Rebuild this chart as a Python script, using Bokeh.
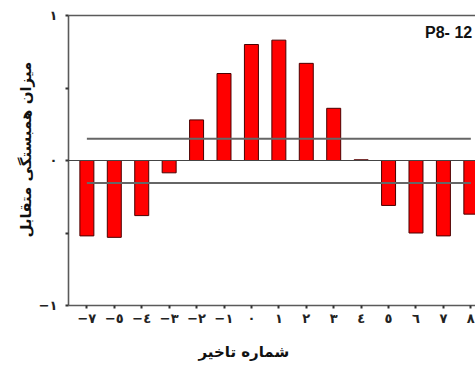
from bokeh.plotting import figure
from bokeh.models import Range1d, FixedTicker, LinearAxis, Label, Span, Title
from bokeh.embed import file_html
from bokeh.resources import INLINE

# Cross-correlation by lag number
lag_labels = ["−٧", "−٥", "−٤", "−٣", "−٢", "−١", "٠", "١", "٢", "٣", "٤", "٥", "٦", "٧", "٨"]
correlation = [-0.52, -0.53, -0.38, -0.085, 0.28, 0.60, 0.80, 0.83, 0.67, 0.36, 0.005,
               -0.31, -0.50, -0.52, -0.37]
conf_upper = 0.15
conf_lower = -0.155

y_ticks = [-1, -0.5, 0, 0.5, 1]
y_tick_text = {-1: "−١", -0.5: "", 0: "٠", 0.5: "", 1: "١"}

x_title = "شماره تاخیر"
y_title = "میزان همبستگی متقابل"
panel_tag = "P8- 12"

positions = list(range(len(lag_labels)))

AR_FONT = "DejaVu Sans"
AXIS_GREY = "#5a5a5a"

p = figure(width=475, height=376,
           x_range=Range1d(-0.67, 14.17), y_range=Range1d(-1, 1),
           output_backend="svg", toolbar_location=None,
           min_border_left=68, min_border_right=0,
           min_border_top=15, min_border_bottom=71)
p.outline_line_color = None
p.xgrid.visible = False
p.ygrid.visible = False
p.background_fill_color = "white"

# bars
p.vbar(x=positions, top=correlation, bottom=0, width=0.51,
       fill_color="#ff0000", line_color="#4a0000", line_width=1)

# zero line
p.add_layout(Span(location=0, dimension="width", line_color="#444444", line_width=1.2))

# confidence limits
span_x = [positions[0], positions[-1]]
p.line(x=span_x, y=[conf_upper, conf_upper], line_color="#666666", line_width=2)
p.line(x=span_x, y=[conf_lower, conf_lower], line_color="#666666", line_width=2)

# x axis
xa = p.xaxis[0]
xa.ticker = FixedTicker(ticks=positions)
xa.major_label_overrides = {i: t for i, t in zip(positions, lag_labels)}
xa.minor_tick_line_color = None
xa.major_tick_in = 0
xa.major_tick_out = 3
xa.major_tick_line_width = 2
xa.major_tick_line_color = "#333333"
xa.axis_line_color = AXIS_GREY
xa.axis_line_width = 1.6
xa.major_label_standoff = 2
xa.major_label_text_font = AR_FONT
xa.major_label_text_font_size = "13px"
xa.major_label_text_font_style = "bold"
xa.major_label_text_color = "#222222"

# y axis
ya = p.yaxis[0]
ya.ticker = FixedTicker(ticks=y_ticks)
ya.major_label_overrides = y_tick_text
ya.minor_tick_line_color = None
ya.major_tick_in = 0
ya.major_tick_out = 3
ya.major_tick_line_width = 2
ya.major_tick_line_color = "#333333"
ya.axis_line_color = AXIS_GREY
ya.axis_line_width = 1.6
ya.major_label_standoff = 8
ya.major_label_text_font = AR_FONT
ya.major_label_text_font_size = "13px"
ya.major_label_text_font_style = "bold"
ya.major_label_text_color = "#222222"

# plain top border
top = LinearAxis(ticker=FixedTicker(ticks=[]), axis_line_color=AXIS_GREY,
                 axis_line_width=1.6, major_tick_line_color=None,
                 minor_tick_line_color=None, major_label_text_font_size="0px")
p.add_layout(top, "above")

# axis titles
p.add_layout(Title(text=x_title, align="left", offset=130, standoff=28,
                   vertical_align="top",
                   text_font=AR_FONT, text_font_size="15px",
                   text_font_style="bold", text_color="#111111"), "below")
p.add_layout(Title(text=y_title, align="left", offset=68, standoff=2,
                   text_font=AR_FONT, text_font_size="15px",
                   text_font_style="bold", text_color="#111111"), "left")

# panel tag in the top right corner
p.add_layout(Label(x=12.33, y=0.883, text=panel_tag, text_align="left",
                   text_baseline="middle", text_font="Liberation Sans",
                   text_font_size="16px", text_font_style="bold",
                   text_color="#111111"))

open("out.html", "w").write(file_html(p, INLINE))
